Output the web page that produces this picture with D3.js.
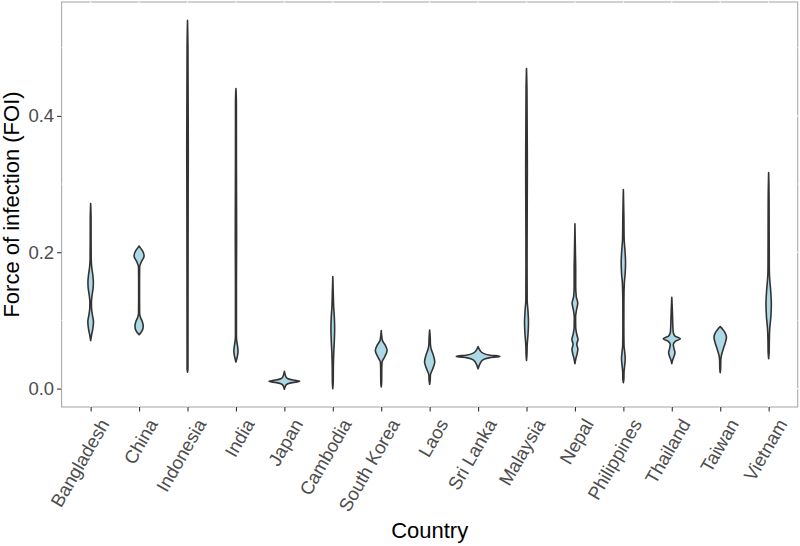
<!DOCTYPE html>
<html>
<head>
<meta charset="utf-8">
<script src="https://cdn.jsdelivr.net/npm/d3@7"></script>
<style>
  body { margin: 0; background: #fff; }
  svg { display: block; font-family: "Liberation Sans", Arial, sans-serif; }
</style>
</head>
<body>
<svg id="chart" width="800" height="546"></svg>
<script>
// ---- Data ----
const countries = ["Bangladesh","China","Indonesia","India","Japan","Cambodia","South Korea","Laos","Sri Lanka","Malaysia","Nepal","Philippines","Thailand","Taiwan","Vietnam"];
const yTicks = [0.0, 0.2, 0.4];
const yMinorTicks = [0.1, 0.3, 0.5];

// Violin profiles: [FOI value, relative density half-width (1 = widest)]
const bangladesh = [[0.0705,0],[0.078,0.04],[0.088,0.1],[0.098,0.13],[0.108,0.08],[0.118,0.04],[0.127,0.035],[0.138,0.07],[0.148,0.115],[0.156,0.125],[0.166,0.10],[0.178,0.05],[0.19,0.025],[0.22,0.02],[0.25,0.018],[0.2715,0]];
const china = [[0.079,0],[0.082,0.08],[0.087,0.17],[0.092,0.19],[0.098,0.15],[0.104,0.07],[0.11,0.025],[0.13,0.02],[0.16,0.02],[0.178,0.025],[0.185,0.09],[0.1946,0.23],[0.202,0.16],[0.206,0.07],[0.209,0]];
const indonesia = [[0.024,0],[0.03,0.02],[0.1,0.022],[0.2,0.025],[0.3,0.03],[0.35,0.035],[0.4,0.03],[0.45,0.025],[0.5,0.02],[0.54,0]];
const india = [[0.039,0],[0.044,0.04],[0.05,0.08],[0.056,0.095],[0.063,0.07],[0.072,0.03],[0.08,0.022],[0.15,0.022],[0.22,0.03],[0.26,0.028],[0.33,0.022],[0.42,0.02],[0.44,0]];
const japan = [[-0.001,0],[0.003,0.04],[0.006,0.1],[0.008,0.25],[0.0095,0.5],[0.0107,0.71],[0.012,0.5],[0.0135,0.25],[0.016,0.1],[0.02,0.04],[0.0253,0]];
const cambodia = [[0.0,0],[0.01,0.02],[0.03,0.025],[0.05,0.04],[0.07,0.07],[0.0876,0.085],[0.105,0.07],[0.12,0.04],[0.135,0.025],[0.1645,0]];
const southKorea = [[0.0024,0],[0.01,0.02],[0.03,0.025],[0.039,0.04],[0.046,0.15],[0.056,0.27],[0.064,0.18],[0.07,0.06],[0.075,0.03],[0.085,0]];
const laos = [[0.0063,0],[0.012,0.025],[0.02,0.035],[0.028,0.13],[0.039,0.235],[0.05,0.16],[0.058,0.07],[0.065,0.035],[0.075,0.025],[0.086,0]];
const sriLanka = [[0.029,0],[0.036,0.08],[0.042,0.22],[0.045,0.5],[0.0472,1.0],[0.049,0.55],[0.052,0.22],[0.056,0.09],[0.0618,0]];
const malaysia = [[0.0414,0],[0.05,0.02],[0.063,0.03],[0.08,0.07],[0.0973,0.09],[0.115,0.065],[0.13,0.03],[0.18,0.025],[0.25,0.03],[0.32,0.038],[0.38,0.03],[0.44,0.02],[0.4695,0]];
const nepal = [[0.0365,0],[0.045,0.05],[0.051,0.1],[0.058,0.135],[0.065,0.085],[0.072,0.14],[0.08,0.08],[0.09,0.035],[0.105,0.03],[0.115,0.07],[0.1255,0.13],[0.135,0.06],[0.15,0.035],[0.175,0.035],[0.2,0.022],[0.2418,0]];
const philippines = [[0.0088,0],[0.015,0.025],[0.024,0.03],[0.034,0.06],[0.0438,0.085],[0.054,0.06],[0.063,0.03],[0.09,0.022],[0.13,0.025],[0.155,0.045],[0.17,0.085],[0.185,0.1],[0.2,0.08],[0.22,0.035],[0.25,0.025],[0.292,0]];
const thailand = [[0.0365,0],[0.042,0.04],[0.047,0.1],[0.0526,0.145],[0.059,0.1],[0.0645,0.07],[0.069,0.15],[0.073,0.395],[0.077,0.15],[0.082,0.07],[0.09,0.05],[0.1,0.04],[0.115,0.025],[0.134,0]];
const taiwan = [[0.0234,0],[0.03,0.02],[0.04,0.025],[0.048,0.05],[0.058,0.14],[0.068,0.24],[0.0754,0.287],[0.082,0.22],[0.087,0.11],[0.091,0]];
const vietnam = [[0.0438,0],[0.055,0.025],[0.07,0.03],[0.0876,0.05],[0.105,0.1],[0.124,0.123],[0.145,0.09],[0.16,0.05],[0.175,0.03],[0.22,0.025],[0.28,0.02],[0.317,0]];

const violins = [bangladesh, china, indonesia, india, japan, cambodia, southKorea, laos, sriLanka, malaysia, nepal, philippines, thailand, taiwan, vietnam];

// ---- Layout ----
const svg = d3.select("#chart");
const margin = {left: 61.6, right: 2.3, top: 2, bottom: 139};
const W = 800, H = 546;
const pl = margin.left, pr = W - margin.right, pt = margin.top, pb = H - margin.bottom;

const x = d3.scalePoint().domain(countries).range([pl, pr]).padding(0.6);
const y = d3.scaleLinear().domain([-0.027, 0.567]).range([pb, pt]);
const w = d3.scaleLinear().domain([0, 1]).range([0, x.step() * 0.45]);

// panel background
svg.append("rect").attr("x", pl).attr("y", pt).attr("width", pr - pl).attr("height", pb - pt)
  .attr("fill", "#fff");

// panel border
svg.append("rect").attr("x", pl).attr("y", pt).attr("width", pr - pl).attr("height", pb - pt)
  .attr("fill", "none").attr("stroke", "#ababab").attr("stroke-width", 1.1);

// white grid lines (visible only where they cross the border)
const g = svg.append("g");
yTicks.concat(yMinorTicks).forEach(t => {
  g.append("line").attr("x1", pl - 0.6).attr("x2", pr + 0.6).attr("y1", y(t)).attr("y2", y(t))
    .attr("stroke", "#fff").attr("stroke-width", Math.round(t * 10) % 2 === 0 ? 1.1 : 0.6);
});
countries.forEach(c => {
  g.append("line").attr("x1", x(c)).attr("x2", x(c)).attr("y1", pt - 0.6).attr("y2", pb + 0.6)
    .attr("stroke", "#fff").attr("stroke-width", 1.1);
});

// violins
const area = d3.area()
  .curve(d3.curveMonotoneY);

violins.forEach((prof, i) => {
  const cx = x(countries[i]);
  area.y(d => y(d[0])).x0(d => cx - w(d[1])).x1(d => cx + w(d[1]));
  svg.append("path").attr("d", area(prof))
    .attr("fill", "#add8e6").attr("stroke", "#333333").attr("stroke-width", 1.6)
    .attr("stroke-linejoin", "round");
});

// y axis
const yAxis = d3.axisLeft(y).tickValues(yTicks).tickFormat(d3.format(".1f")).tickSize(4.5).tickPadding(3);
const ya = svg.append("g").attr("transform", `translate(${pl},0)`).call(yAxis);
ya.select(".domain").remove();
ya.selectAll(".tick line").attr("stroke", "#333").attr("stroke-width", 1.1);
ya.selectAll(".tick text").attr("fill", "#4d4d4d").style("font-size", "18.5px")
  .style("font-family", "'Liberation Sans', Arial, sans-serif");

// x axis
const xAxis = d3.axisBottom(x).tickSize(4.5).tickPadding(3);
const xa = svg.append("g").attr("transform", `translate(0,${pb})`).call(xAxis);
xa.select(".domain").remove();
xa.selectAll(".tick line").attr("stroke", "#333").attr("stroke-width", 1.1);
xa.selectAll(".tick text")
  .attr("fill", "#4d4d4d").style("font-size", "18.5px")
  .style("font-family", "'Liberation Sans', Arial, sans-serif")
  .attr("text-anchor", "end")
  .attr("dy", null)
  .attr("y", 0)
  .attr("transform", "translate(7,10) rotate(-60)")
  .attr("dominant-baseline", "hanging");

// axis titles
svg.append("text").attr("x", (pl + pr) / 2).attr("y", 538).attr("text-anchor", "middle")
  .attr("fill", "#000").style("font-size", "22px").text("Country");
svg.append("text").attr("transform", `translate(19,${(pt + pb) / 2}) rotate(-90)`)
  .attr("text-anchor", "middle").attr("fill", "#000").style("font-size", "22px")
  .text("Force of infection (FOI)");
</script>
</body>
</html>
